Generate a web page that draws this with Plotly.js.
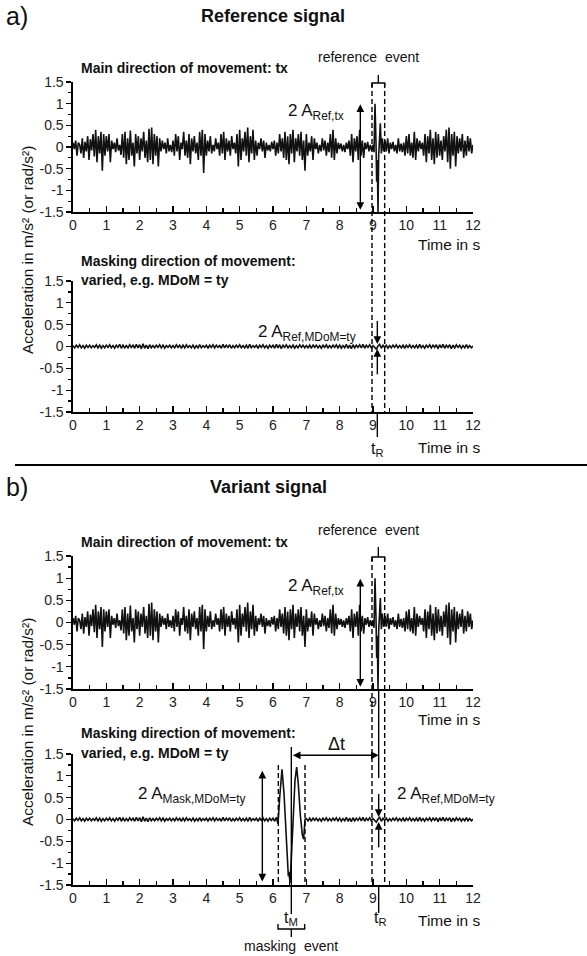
<!DOCTYPE html>
<html><head><meta charset="utf-8">
<script src="https://cdn.plot.ly/plotly-3.0.1.min.js"></script>
<style>html,body{margin:0;padding:0;background:#fff;} #chart{width:587px;height:956px;}</style>
</head><body><div id="chart"></div>
<script>
// ---------------- data ----------------
const mainStep = 0.04;           // sampling step of the tx noise (s)
const mainBeforeStart = 0;       // first sample time
const mainNoiseBefore = [
 0.1,-0.05,0.15,-0.2,0.1,0.05,-0.15,0.2,-0.25,0.12,-0.1,0.25,-0.3,0.18,-0.08,0.3,-0.22,0.4,-0.35,0.25,-0.15,0.35,-0.55,0.3,-0.2,
 0.25,-0.1,0.3,-0.35,0.15,-0.05,0.1,-0.12,0.2,-0.08,0.05,-0.18,0.3,-0.25,0.35,-0.4,0.2,-0.3,0.38,-0.2,0.1,-0.45,0.3,-0.15,0.25,
 -0.3,0.2,-0.1,0.35,-0.25,0.15,-0.35,0.42,-0.3,0.45,-0.4,0.3,-0.2,0.25,-0.45,0.2,-0.1,0.15,-0.05,0.1,-0.15,0.2,-0.1,0.05,-0.12,
 0.15,-0.2,0.3,-0.1,0.25,-0.3,0.1,-0.05,0.35,-0.2,0.15,-0.25,0.3,-0.4,0.2,-0.1,0.25,-0.15,0.1,-0.3,0.35,-0.2,0.4,-0.6,0.3,
 -0.2,0.15,-0.1,0.25,-0.15,0.05,-0.1,0.2,-0.05,0.1,-0.2,0.3,-0.15,0.35,-0.3,0.2,-0.1,0.15,-0.2,0.25,-0.05,0.1,-0.15,0.3,-0.45,
 0.4,-0.3,0.2,-0.1,0.35,-0.2,0.45,-0.35,0.25,-0.15,0.4,-0.3,0.15,-0.2,0.1,-0.05,0.2,-0.1,0.15,-0.25,0.1,-0.08,0.05,-0.1,0.12,
 -0.05,0.15,-0.2,0.1,-0.15,0.3,-0.1,0.2,-0.25,0.35,-0.3,0.25,-0.4,0.3,-0.15,0.4,-0.35,0.2,-0.1,0.3,-0.2,0.35,-0.3,0.15,-0.55,
 0.3,-0.2,0.1,-0.1,0.25,-0.3,0.2,-0.05,0.1,-0.15,0.05,-0.1,0.2,-0.08,0.15,-0.2,0.1,-0.12,0.3,-0.25,0.4,-0.3,0.2,-0.15,0.1,
 -0.05,0.08,-0.1,0.05,-0.12,0.1,-0.05,0.15,-0.2,0.3,-0.35,0.2,-0.1,0.25,-0.3,0.4,-0.2,0.15,-0.25,0.1,-0.05,0.12,-0.1,0.05,-0.08
];
const refEventTimes  = [9.00, 9.03, 9.06, 9.09, 9.11, 9.13, 9.15, 9.17, 9.19, 9.22, 9.25, 9.28, 9.32];
const refEventValues = [0.05,-0.12, 1.00, 0.10,-0.80,-0.30,-1.50,-0.20, 0.15, 0.55,-0.15, 0.20,-0.10];
const mainAfterStart = 9.36;
const mainNoiseAfter = [
 0.15,-0.1,0.2,-0.15,0.1,-0.05,0.12,-0.1,0.05,-0.15,0.2,-0.1,0.08,-0.12,0.1,-0.2,
 0.25,-0.15,0.3,-0.2,0.1,-0.25,0.35,-0.3,0.2,-0.1,0.15,-0.05,0.1,-0.2,0.3,-0.35,0.25,-0.15,0.4,-0.3,0.2,-0.4,0.35,-0.25,0.3,
 -0.2,0.15,-0.3,0.25,-0.1,0.4,-0.35,0.45,-0.5,0.3,-0.2,0.35,-0.45,0.25,-0.15,0.2,-0.1,0.3,-0.25,0.15,-0.2,0.25,-0.1,0.2,-0.15,0.05
];
const maskStep = 0.05;           // sampling step of the ty noise (s)
const maskNoise = [
 0.02,-0.03,0.03,-0.02,0.04,-0.03,0.02,-0.04,0.03,-0.02,0.03,-0.03,0.02,-0.02,0.04,-0.03,0.03,-0.04,0.02,-0.03,
 0.03,-0.02,0.04,-0.03,0.02,-0.04,0.03,-0.02,0.05,-0.04,0.03,-0.03,0.02,-0.03,0.04,-0.02,0.03,-0.04,0.05,-0.03,
 0.04,-0.05,0.06,-0.04,0.03,-0.05,0.04,-0.03,0.02,-0.03,0.03,-0.02,0.04,-0.03,0.03,-0.04,0.02,-0.02,0.03,-0.03,
 0.02,-0.03,0.04,-0.02,0.03,-0.04,0.03,-0.03,0.04,-0.02,0.02,-0.03,0.03,-0.04,0.02,-0.03,0.04,-0.03,0.02,-0.02,
 0.03,-0.04,0.03,-0.02,0.04,-0.03,0.03,-0.02,0.02,-0.04,0.05,-0.03,0.03,-0.02,0.04,-0.04,0.02,-0.03,0.03,-0.02,
 0.04,-0.03,0.02,-0.03,0.03,-0.04,0.05,-0.03,0.02,-0.02,0.03,-0.04,0.03,-0.02,0.04,-0.03,0.02,-0.04,0.03,-0.02,
 0.03,-0.04,0.05,-0.03,0.04,-0.05,0.03,-0.02,0.04,-0.03,0.02,-0.03,0.03,-0.04,0.02,-0.03,0.04,-0.02,0.03,-0.03,
 0.02,-0.03,0.03,-0.04,0.04,-0.02,0.03,-0.03,0.02,-0.04,0.03,-0.02,0.04,-0.03,0.02,-0.03,0.03,-0.02,0.04,-0.03,
 0.03,-0.04,0.02,-0.03,0.05,-0.04,0.03,-0.05,0.04,-0.03,0.03,-0.02,0.04,-0.03,0.05,-0.04,0.03,-0.02,0.04,-0.03,
 0.02,-0.03,-0.06,0.01,0.05,-0.04,0.03,-0.02,0.03,-0.04,0.02,-0.03,0.03,-0.02,0.04,-0.03,0.02,-0.03,0.03,-0.04,
 0.03,-0.02,0.04,-0.03,0.02,-0.03,0.03,-0.04,0.05,-0.03,0.02,-0.04,0.03,-0.02,0.04,-0.03,0.03,-0.02,0.04,-0.05,
 0.04,-0.03,0.05,-0.04,0.03,-0.02,0.04,-0.05,0.03,-0.03,0.04,-0.02,0.03,-0.04,0.02,-0.03,0.04,-0.03,0.02,-0.03,0.01
];
const maskEventTimes  = [6.15, 6.20, 6.27, 6.33, 6.40, 6.46, 6.48, 6.51, 6.55, 6.60, 6.66, 6.71, 6.76, 6.82, 6.88, 6.92, 6.96];
const maskEventValues = [-0.10,0.50, 1.15, 0.60,-0.50,-1.30,-1.20,-1.45,-0.90, 0.10, 0.90, 1.20, 0.80, 0.10,-0.35,-0.45, 0.00];

const xTickVals = [0,1,2,3,4,5,6,7,8,9,10,11,12];
const xTickText = ['0','1','2','3','4','5','6','7','8','9','10','11','12'];
const yTickVals = [-1.5,-1,-0.5,0,0.5,1,1.5];
const yTickText = ['-1.5','-1','-0.5','0','0.5','1','1.5'];

// ---------------- build series ----------------
const r3 = v => Math.round(v*1000)/1000;
const mainT = [], mainY = [];
mainNoiseBefore.forEach((v,i)=>{ mainT.push(r3(mainBeforeStart+i*mainStep)); mainY.push(v); });
refEventTimes.forEach((t,i)=>{ mainT.push(t); mainY.push(refEventValues[i]); });
mainNoiseAfter.forEach((v,i)=>{ mainT.push(r3(mainAfterStart+i*mainStep)); mainY.push(v); });

const maskT = maskNoise.map((v,i)=>r3(i*maskStep));
const varT = [], varY = [];
maskNoise.forEach((v,i)=>{ if (maskT[i] < maskEventTimes[0]) { varT.push(maskT[i]); varY.push(v);} });
maskEventTimes.forEach((t,i)=>{ varT.push(t); varY.push(maskEventValues[i]); });
maskNoise.forEach((v,i)=>{ if (maskT[i] > maskEventTimes[maskEventTimes.length-1]) { varT.push(maskT[i]); varY.push(v);} });

// ---------------- layout helpers ----------------
const H = 956, L = 73, W = 400;
const px = x => (x - L) / W;
const py = y => 1 - y / H;
const FONT = 'Liberation Sans, Arial, sans-serif';
const doms = [[212,82],[412,281],[689,556],[885,754]];

const lineStyle = {color:'#111', width:1.6};
const traces = [
  {x: mainT, y: mainY, xaxis:'x', yaxis:'y'},
  {x: maskT, y: maskNoise, xaxis:'x2', yaxis:'y2'},
  {x: mainT, y: mainY, xaxis:'x3', yaxis:'y3'},
  {x: varT, y: varY, xaxis:'x4', yaxis:'y4'}
].map(t => Object.assign(t, {type:'scatter', mode:'lines', line: lineStyle, hoverinfo:'skip', showlegend:false}));

function xAx(anchor){
  return {domain:[0,1], anchor: anchor, range:[0,12], tickmode:'array', tickvals:xTickVals, ticktext:xTickText,
    ticks:'inside', ticklen:6, tickwidth:1.3, tickcolor:'#000',
    minor:{tickmode:'linear', tick0:0, dtick:0.5, ticks:'inside', ticklen:4, tickwidth:1.3, tickcolor:'#000', showgrid:false},
    showline:true, linewidth:1.6, linecolor:'#000', showgrid:false, zeroline:false,
    tickfont:{family:FONT, size:14, color:'#222'}, fixedrange:true};
}
function yAx(anchor, d){
  return {domain:[py(d[0]), py(d[1])], anchor: anchor, range:[-1.5,1.5], tickmode:'array', tickvals:yTickVals, ticktext:yTickText,
    ticks:'outside', ticklen:5, tickwidth:1.3, tickcolor:'#000',
    minor:{tickmode:'linear', tick0:-1.5, dtick:0.25, ticks:'outside', ticklen:3, tickwidth:1.3, tickcolor:'#000', showgrid:false},
    showline:true, linewidth:1.6, linecolor:'#000', showgrid:false, zeroline:false,
    tickfont:{family:FONT, size:14, color:'#222'}, fixedrange:true};
}
// overlay axes that add the opposite half of each tick, so ticks cross the axis lines
function xCross(over, anchor){
  return {overlaying: over, anchor: anchor, range:[0,12], tickmode:'array', tickvals:xTickVals, ticks:'outside', ticklen:3, tickwidth:1.3, tickcolor:'#000',
    minor:{tickmode:'linear', tick0:0, dtick:0.5, ticks:'outside', ticklen:2, tickwidth:1.3, tickcolor:'#000', showgrid:false},
    showticklabels:false, showline:false, showgrid:false, zeroline:false, fixedrange:true};
}
function yCross(over, anchor){
  return {overlaying: over, anchor: anchor, range:[-1.5,1.5], tickmode:'array', tickvals:yTickVals, ticks:'inside', ticklen:4, tickwidth:1.3, tickcolor:'#000',
    minor:{tickmode:'linear', tick0:-1.5, dtick:0.25, ticks:'inside', ticklen:3, tickwidth:1.3, tickcolor:'#000', showgrid:false},
    showticklabels:false, showline:false, showgrid:false, zeroline:false, fixedrange:true};
}

const shapes = [];
const ln = (x0,y0,x1,y1,xref,yref,extra) => shapes.push(Object.assign({type:'line', x0, y0, x1, y1, xref, yref, line:{color:'#000', width:1.4}}, extra||{}));
const dashed = {line:{color:'#000', width:1.4, dash:'5px,3px'}};
// separator
ln(px(15), py(465), px(587), py(465), 'paper', 'paper', {line:{color:'#000', width:2}});
// reference-event window (a)
ln(8.97, py(83), 8.97, py(412), 'x', 'paper', dashed);
ln(9.35, py(83), 9.35, py(412), 'x', 'paper', dashed);
shapes.push({type:'path', xref:'x', yref:'paper', path:`M 8.97,${py(87)} L 8.97,${py(83)} L 9.35,${py(83)} L 9.35,${py(87)}`, line:{color:'#000', width:1.4}});
ln(9.16, py(83), 9.16, py(75), 'x', 'paper');
ln(9.13, py(412), 9.13, py(437), 'x', 'paper');
// reference-event window (b)
ln(8.97, py(557), 8.97, py(885), 'x', 'paper', dashed);
ln(9.35, py(557), 9.35, py(885), 'x', 'paper', dashed);
shapes.push({type:'path', xref:'x', yref:'paper', path:`M 8.97,${py(561)} L 8.97,${py(557)} L 9.35,${py(557)} L 9.35,${py(561)}`, line:{color:'#000', width:1.4}});
ln(9.16, py(557), 9.16, py(547), 'x', 'paper');
ln(9.17, py(689), 9.17, py(778), 'x', 'paper');
ln(9.17, py(885), 9.17, py(913), 'x', 'paper');
// masking event
ln(6.55, py(747), 6.55, py(914), 'x', 'paper');
ln(6.16, py(765), 6.16, py(885), 'x', 'paper', dashed);
ln(6.96, py(765), 6.96, py(885), 'x', 'paper', dashed);
shapes.push({type:'path', xref:'x', yref:'paper', path:`M 6.15,${py(924)} L 6.15,${py(929)} L 6.95,${py(929)} L 6.95,${py(924)}`, line:{color:'#000', width:1.4}});
ln(6.55, py(929), 6.55, py(937), 'x', 'paper');

const ann = [];
const txt = (text, x, y, o) => ann.push(Object.assign({text, x, y, xref:'paper', yref:'paper', showarrow:false, xanchor:'center', yanchor:'middle', font:{family:FONT, size:15, color:'#111'}}, o||{}));
txt('a)', px(4), py(16), {xanchor:'left', font:{family:FONT, size:25, color:'#111'}});
txt('<b>Reference signal</b>', px(273), py(16), {font:{family:FONT, size:18, color:'#111'}});
txt('b)', px(4), py(487), {xanchor:'left', font:{family:FONT, size:25, color:'#111'}});
txt('<b>Variant signal</b>', px(268), py(487), {font:{family:FONT, size:18, color:'#111'}});
txt('Acceleration in m/s² (or rad/s²)', px(27), py(250), {textangle:-90, font:{family:FONT, size:15.5, color:'#111'}});
txt('Acceleration in m/s² (or rad/s²)', px(27), py(722), {textangle:-90, font:{family:FONT, size:15.5, color:'#111'}});
const bold14 = {xanchor:'left', font:{family:FONT, size:14, color:'#111'}};
txt('<b>Main direction of movement: tx</b>', px(79), py(68), bold14);
txt('<b>Masking direction of movement:</b>', px(79), py(261), bold14);
txt('<b>varied, e.g. MDoM = ty</b>', px(79), py(280), bold14);
txt('<b>Main direction of movement: tx</b>', px(79), py(542), bold14);
txt('<b>Masking direction of movement:</b>', px(79), py(733), bold14);
txt('<b>varied, e.g. MDoM = ty</b>', px(79), py(753), bold14);
txt('reference  event', px(368), py(57), {font:{family:FONT, size:14, color:'#111'}});
txt('reference  event', px(368), py(530), {font:{family:FONT, size:14, color:'#111'}});
['245','447','719','920'].forEach(v => txt('Time in s', px(483), py(+v), {xanchor:'right', font:{family:FONT, size:15.5, color:'#111'}}));
txt('t<sub>R</sub>', px(377), py(449), {font:{family:FONT, size:16, color:'#111'}});
txt('t<sub>R</sub>', px(380), py(918), {font:{family:FONT, size:16, color:'#111'}});
txt('t<sub>M</sub>', px(291), py(918), {font:{family:FONT, size:16, color:'#111'}});
txt('masking  event', px(291), py(946), {font:{family:FONT, size:14, color:'#111'}});
txt('Δt', px(336), py(744), {font:{family:FONT, size:18, color:'#111'}});

const lab = (text, x, y, yref, xanchor) => ann.push({text, x, y, xref:'x', yref, showarrow:false, xanchor, yanchor:'middle', font:{family:FONT, size:17, color:'#111'}});
lab('2 A<sub>Ref,tx</sub>', 8.2, 0.8, 'y', 'right');
lab('2 A<sub>Ref,tx</sub>', 8.2, 0.8, 'y3', 'right');
lab('2 A<sub>Ref,MDoM=ty</sub>', 8.55, 0.3, 'y2', 'right');
lab('2 A<sub>Ref,MDoM=ty</sub>', 9.65, 0.55, 'y4', 'left');
lab('2 A<sub>Mask,MDoM=ty</sub>', 5.25, 0.55, 'y4', 'right');

const arr = (x, y, ax, ay, xr, yr, both) => ann.push({text:'', x, y, ax, ay, xref:xr, yref:yr, axref:xr, ayref:yr, showarrow:true,
  arrowhead:2, arrowsize:1.1, arrowwidth:1.4, arrowcolor:'#000', startarrowhead:2, startarrowsize:1.1, arrowside: both ? 'end+start' : 'end', standoff:0, startstandoff:0});
arr(8.62, -1.45, 8.62, 1.02, 'x', 'y', true);
arr(8.62, -1.45, 8.62, 1.02, 'x3', 'y3', true);
arr(9.13, 0.06, 9.13, 0.62, 'x2', 'y2', false);
arr(9.13, -0.06, 9.13, -0.67, 'x2', 'y2', false);
arr(9.17, 0.06, 9.17, 0.62, 'x4', 'y4', false);
arr(9.17, -0.06, 9.17, -0.67, 'x4', 'y4', false);
arr(5.68, -1.42, 5.68, 1.15, 'x4', 'y4', true);
arr(9.17, 1.47, 6.55, 1.47, 'x4', 'y4', true);

const layout = {
  width:587, height:956, margin:{l:L, r:587-L-W, t:0, b:0, autoexpand:false},
  paper_bgcolor:'#fff', plot_bgcolor:'rgba(0,0,0,0)', showlegend:false,
  font:{family:FONT, color:'#111'},
  xaxis: xAx('y'), yaxis: yAx('x', doms[0]),
  xaxis2: xAx('y2'), yaxis2: yAx('x2', doms[1]),
  xaxis3: xAx('y3'), yaxis3: yAx('x3', doms[2]),
  xaxis4: xAx('y4'), yaxis4: yAx('x4', doms[3]),
  xaxis5: xCross('x','y'), xaxis6: xCross('x2','y2'), xaxis7: xCross('x3','y3'), xaxis8: xCross('x4','y4'),
  yaxis5: yCross('y','x'), yaxis6: yCross('y2','x2'), yaxis7: yCross('y3','x3'), yaxis8: yCross('y4','x4'),
  shapes, annotations: ann
};
Plotly.newPlot('chart', traces, layout, {staticPlot:true, displayModeBar:false});
</script></body></html>
